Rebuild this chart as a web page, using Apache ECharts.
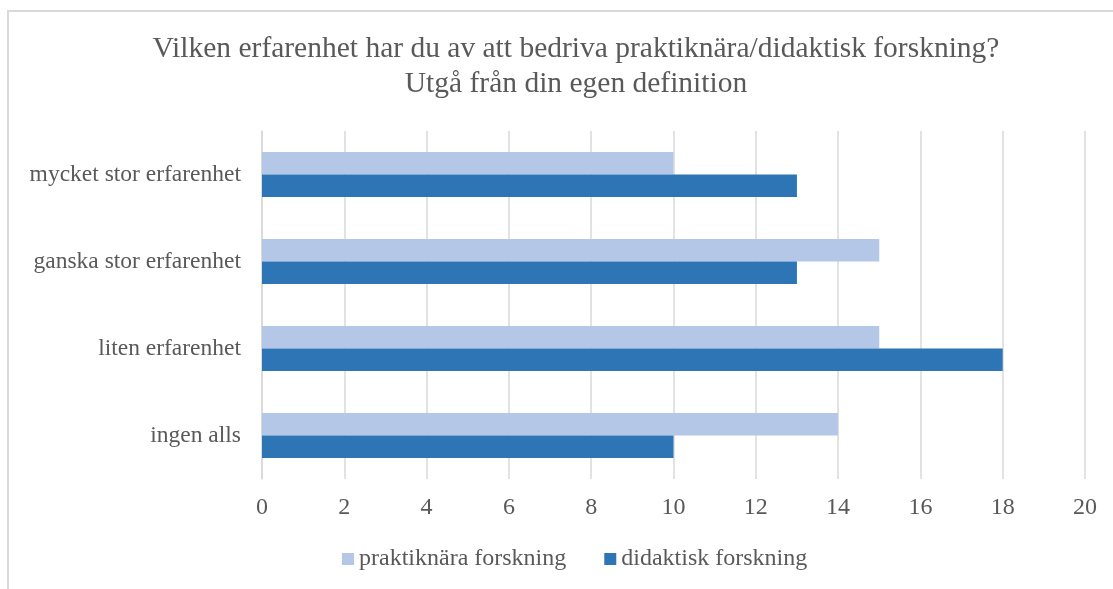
<!DOCTYPE html>
<html>
<head>
<meta charset="utf-8">
<script src="https://cdn.jsdelivr.net/npm/echarts@6/dist/echarts.min.js"></script>
<style>
  html, body { margin: 0; padding: 0; background: #fff; }
  #frame { position: absolute; left: 7px; top: 10px; width: 1120px; height: 600px; border: 2px solid #d9d9d9; box-sizing: border-box; }
  #myChartMain { position: absolute; left: 0; top: 0; width: 1113px; height: 589px; }
</style>
</head>
<body>
<div id="frame"></div>
<div id="myChartMain"></div>
<script>
// kategorier nedifrån och upp
var categories = ['ingen alls', 'liten erfarenhet', 'ganska stor erfarenhet', 'mycket stor erfarenhet'];
var praktiknara = [14, 15, 15, 10];
var didaktisk = [10, 18, 13, 13];
var seriesNames = ['praktiknära forskning', 'didaktisk forskning'];
var xTicks = [0, 20, 2];

var font = '"Liberation Serif", "Times New Roman", serif';
var myChart = echarts.init(document.getElementById('myChartMain'));
var option = {
	title : {
		text : 'Vilken erfarenhet har du av att bedriva praktiknära/didaktisk forskning?\nUtgå från din egen definition',
		// textAlign center => texten centreras kring left
		left : 571,
		top : 27,
		textAlign : 'center',
		textStyle : {
			fontFamily : font,
			fontSize : 29.5,
			fontWeight : 'normal',
			color : '#595959',
			lineHeight : 35
		}
	},
	legend : {
		data : seriesNames,
		bottom : 13,
		left : 337,
		icon : 'rect',
		itemWidth : 12,
		itemHeight : 12,
		itemGap : 38,
		textStyle : {
			fontFamily : font,
			fontSize : 24,
			color : '#595959'
		}
	},
	grid : {
		left : 262,
		right : 28,
		top : 131,
		bottom : 110,
		containLabel : false
	},
	xAxis : {
		type : 'value',
		min : xTicks[0],
		max : xTicks[1],
		interval : xTicks[2],
		axisLine : { show : false },
		axisTick : { show : false },
		splitLine : { lineStyle : { color : '#d9d9d9', width : 1.5 } },
		axisLabel : {
			margin : 17,
			fontFamily : font,
			fontSize : 24,
			color : '#595959'
		}
	},
	yAxis : {
		type : 'category',
		data : categories,
		axisLine : { lineStyle : { color : '#d9d9d9', width : 1.5 } },
		axisTick : { show : false },
		axisLabel : {
			margin : 21,
			fontFamily : font,
			fontSize : 23.5,
			color : '#595959'
		}
	},
	series : [ {
		name : seriesNames[0],
		type : 'bar',
		data : praktiknara,
		barGap : '0%',
		barCategoryGap : '48%',
		itemStyle : { color : '#b4c7e7' }
	}, {
		name : seriesNames[1],
		type : 'bar',
		data : didaktisk,
		barGap : '0%',
		barCategoryGap : '48%',
		itemStyle : { color : '#2e75b6' }
	} ]
};
myChart.setOption(option);
</script>
</body>
</html>
